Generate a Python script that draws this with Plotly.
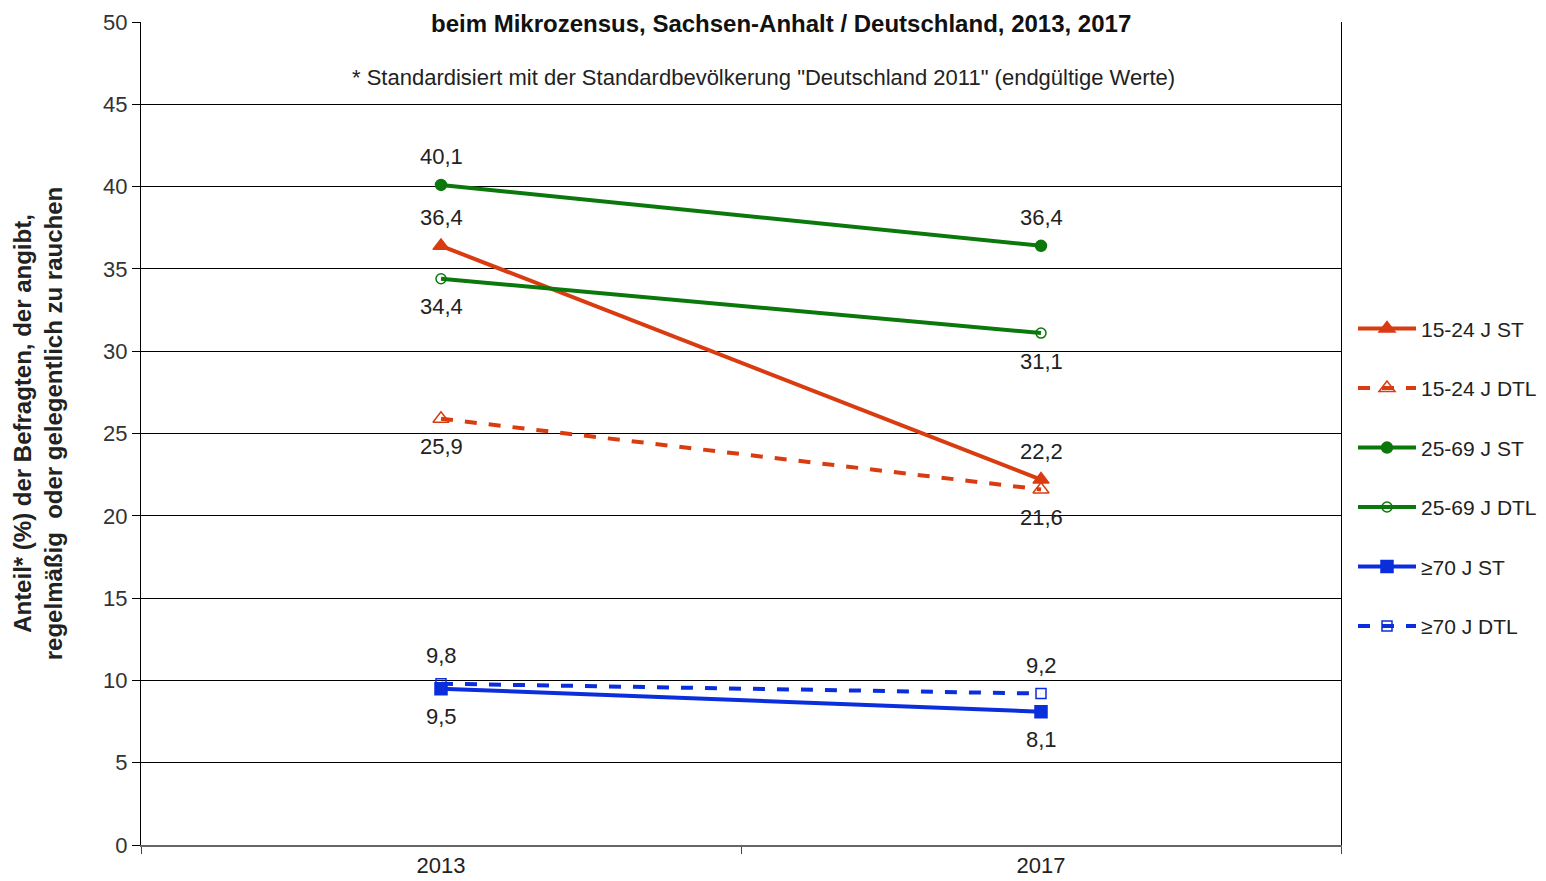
import plotly.graph_objects as go

years = ["2013", "2017"]

names = ["15-24 J ST", "15-24 J DTL", "25-69 J ST", "25-69 J DTL", "≥70 J ST", "≥70 J DTL"]
values = [
    [36.4, 22.2],
    [25.9, 21.6],
    [40.1, 36.4],
    [34.4, 31.1],
    [9.5, 8.1],
    [9.8, 9.2],
]
labels = [
    ["36,4", "22,2"],
    ["25,9", "21,6"],
    ["40,1", "36,4"],
    ["34,4", "31,1"],
    ["9,5", "8,1"],
    ["9,8", "9,2"],
]
# 1 = Beschriftung oberhalb, -1 = unterhalb
label_side = [1, -1, 1, -1, -1, 1]

red = "#D93C10"
green = "#0A780A"
blue = "#0A2EDC"
styles = [
    (red, "solid", "triangle-up", 14),
    (red, "dash", "triangle-up-open", 14),
    (green, "solid", "circle", 11),
    (green, "solid", "circle-open", 10),
    (blue, "solid", "square", 12),
    (blue, "dash", "square-open", 10),
]

FONT = "Liberation Sans, Arial, sans-serif"

fig = go.Figure()
for i, name in enumerate(names):
    col, dash, sym, msize = styles[i]
    fig.add_trace(go.Scatter(
        x=years, y=values[i], name=name, legendgroup=name,
        mode="lines+markers",
        line=dict(color=col, width=4, dash=dash),
        marker=dict(symbol=sym, size=msize, color=col, line=dict(color=col, width=1.5)),
        cliponaxis=False,
    ))
    # Datenbeschriftungen (x als Kategorie-Index, sonst wird "2013" als Zahl gelesen)
    for j in range(len(years)):
        fig.add_annotation(
            x=j, y=values[i][j], text=labels[i][j], showarrow=False,
            yshift=28 * label_side[i],
            font=dict(size=22, color="#222222", family=FONT),
        )

# Titel (im Original oben angeschnitten)
fig.add_annotation(
    text="<b>beim Mikrozensus, Sachsen-Anhalt / Deutschland, 2013, 2017</b>",
    xref="paper", yref="paper", x=0.533, y=1 + 14 / 823, yanchor="top",
    showarrow=False, font=dict(size=24, color="#111111", family=FONT),
)
fig.add_annotation(
    text='* Standardisiert mit der Standardbevölkerung "Deutschland 2011" (endgültige Werte)',
    xref="paper", yref="paper", x=0.519, y=0.933, yanchor="middle",
    showarrow=False, font=dict(size=22, color="#222222", family=FONT),
)
# y-Achsentitel
fig.add_annotation(
    text="<b>Anteil* (%) der Befragten, der angibt,<br>regelmäßig  oder gelegentlich zu rauchen</b>",
    xref="paper", yref="paper", x=-0.112, y=0.512, textangle=-90,
    showarrow=False, font=dict(size=24, color="#222222", family=FONT),
)

fig.update_layout(
    width=1538, height=873,
    margin=dict(l=133, r=205, t=14, b=36, autoexpand=False),
    paper_bgcolor="white", plot_bgcolor="white",
    font=dict(family=FONT, size=22, color="#333333"),
    showlegend=True,
    legend=dict(x=1.010, y=0.652, xanchor="left", yanchor="top",
                font=dict(size=21, color="#222222", family=FONT),
                tracegroupgap=29.2, itemwidth=58, bgcolor="rgba(0,0,0,0)"),
    xaxis=dict(type="category", range=[-0.5, 1.5], showgrid=False, automargin=False,
               tickson="boundaries", ticks="outside", ticklen=7, tickcolor="#444",
               showline=True, linecolor="#666", linewidth=2, mirror=False,
               tickfont=dict(size=22, color="#222222"), zeroline=False),
    yaxis=dict(range=[0, 50], dtick=5, showgrid=True, gridcolor="black", gridwidth=1,
               automargin=False,
               ticks="outside", ticklen=8, tickcolor="black",
               showline=True, linecolor="black", linewidth=1, mirror=True,
               tickfont=dict(size=22, color="#333333"), zeroline=False),
)

fig.write_html("out.html")
